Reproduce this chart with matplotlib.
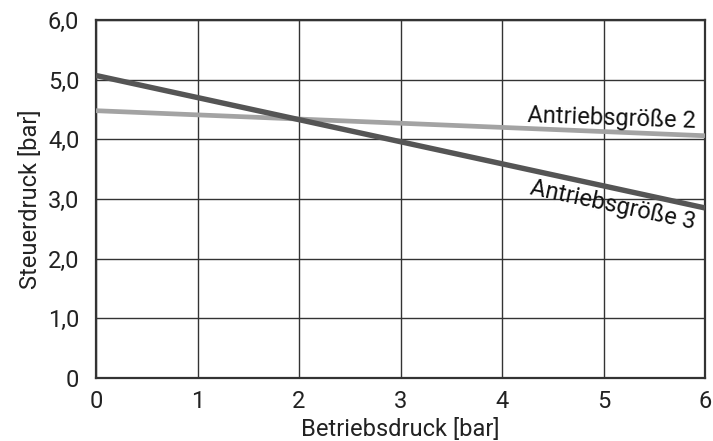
import matplotlib
matplotlib.use("Agg")
import matplotlib.pyplot as plt

plt.rcParams['font.family'] = ['Roboto', 'DejaVu Sans']

# Steuerdruck über Betriebsdruck für zwei Antriebsgrößen
betriebsdruck = [0, 6]
steuerdruck_g2 = [4.48, 4.06]
steuerdruck_g3 = [5.07, 2.85]

x_ticks = [0, 1, 2, 3, 4, 5, 6]
y_ticks = [0, 1, 2, 3, 4, 5, 6]
y_tick_labels = ["0", "1,0", "2,0", "3,0", "4,0", "5,0", "6,0"]

fs = 17

fig = plt.figure(figsize=(7.13, 4.41), dpi=100)
ax = fig.add_axes([96 / 713, 63 / 441, 609 / 713, 358 / 441])

ax.plot(betriebsdruck, steuerdruck_g2, color='#a3a3a3', lw=3.4, solid_capstyle='butt', zorder=3)
ax.plot(betriebsdruck, steuerdruck_g3, color='#555555', lw=3.9, solid_capstyle='butt', zorder=4)

ax.set_xlim(0, 6)
ax.set_ylim(0, 6)
ax.set_xticks(x_ticks)
ax.set_yticks(y_ticks)
ax.set_yticklabels(y_tick_labels)
ax.tick_params(length=0, labelsize=fs, colors='#222222')
ax.tick_params(axis='x', pad=9)
ax.tick_params(axis='y', pad=12)
ax.grid(True, color='#333333', lw=1.0)
ax.set_axisbelow(True)
for s in ax.spines.values():
    s.set_color('#333333')
    s.set_linewidth(1.6)

ax.set_xlabel("Betriebsdruck [bar]", fontsize=fs, labelpad=3, color='#222222')
ax.set_ylabel("Steuerdruck [bar]", fontsize=fs, labelpad=4, color='#222222')

ax.text(5.08, 4.35, "Antriebsgröße 2", fontsize=fs, rotation=-2,
        ha='center', va='center', rotation_mode='anchor', color='#111111')
ax.text(5.09, 2.90, "Antriebsgröße 3", fontsize=fs, rotation=-12,
        ha='center', va='center', rotation_mode='anchor', color='#111111')

fig.savefig("out.png", dpi=100)
